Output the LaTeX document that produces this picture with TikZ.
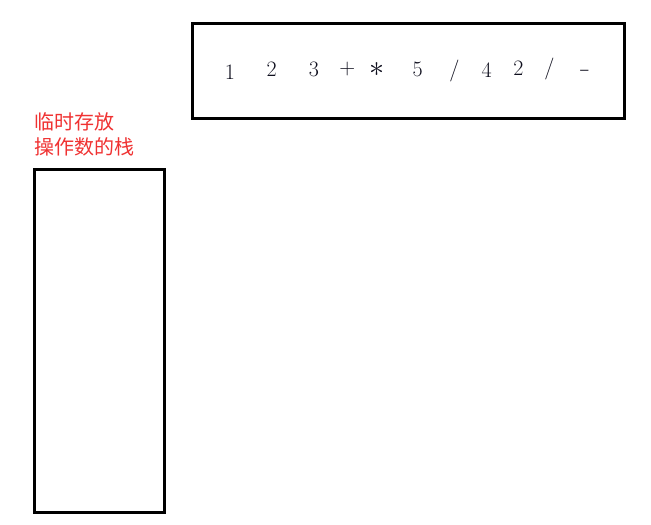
\documentclass[tikz,border=0pt]{standalone}
\usepackage{fontspec}
\newfontfamily\cjk{Noto Sans CJK SC}
\usepackage{tikz}
\usepackage{xcolor}
\usetikzlibrary{positioning,calc}
\definecolor{notered}{RGB}{240,50,50}
\definecolor{tokink}{RGB}{15,15,30}
\tikzset{
    box/.style={line width=3pt},
    tok/.style={inner sep=0pt,text=tokink,font=\fontsize{22}{26}\selectfont},
    note/.style={inner sep=0pt,anchor=west,text=notered,font=\cjk\fontsize{20}{24}\selectfont}
}

\begin{document}
\begin{tikzpicture}[x=1pt,y=-1pt]
        \useasboundingbox[fill=white] (0,0) rectangle (651,525);
        \draw[box] (192.5,23.5) rectangle (624.5,118.5);
        \draw[box] (34.7,169.7) rectangle (164,512.2);
        \node[tok] (one) at (230,72.5) {1};
        \node[tok] (two) at (271.7,69.2) {2};
        \node[tok] (three) at (314,69.5) {3};
        \node[tok] (plus) at (347.3,69.2) {+};
        \node[tok,scale=1.45] (times) at (377.3,69.7) {$\ast$};
        \node[tok] (five) at (417.7,69.2) {5};
        \node[tok] (divA) at (454.3,70.5) {/};
        \node[tok] (four) at (486.7,70) {4};
        \node[tok] (twoB) at (518.3,68.3) {2};
        \node[tok] (divB) at (549.3,69.2) {/};
        \node[tok,xscale=1.5] (minus) at (585,72.7) {-};
        \node[note] (tmpA) at (34,121.7) {临时存放};
        \node[note] (tmpB) at (34,146.5) {操作数的栈};
    \end{tikzpicture}
\end{document}
